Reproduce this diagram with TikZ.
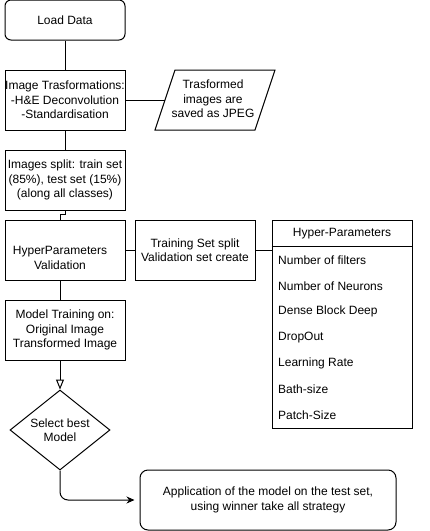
\documentclass[tikz,border=0pt]{standalone}
\usepackage{fontspec}
\setmainfont{Liberation Sans}
\usetikzlibrary{shapes.geometric,arrows.meta}
\begin{document}
\begin{tikzpicture}[x=1pt,y=-1pt,
  every node/.style={font=\fontsize{12pt}{14.3pt}\selectfont, inner sep=0pt, align=center},
  line/.style={line width=1pt},
  box/.style={draw, line, minimum width=120pt, minimum height=60pt}]
\useasboundingbox[fill=white] (0,0) rectangle (430,531);
% nodes
\node[box, rounded corners=6pt, minimum height=40pt] (load) at (65,20) {Load Data};
\node[box] (imgT) at (65,100) {Image Trasformations:\\-H\&E Deconvolution\\-Standardisation};
\draw[line] (155,130) -- (175,70) -- (275,70) -- (255,130) -- cycle;
\node (jpeg) at (213,99) {Trasformed\\images are\\saved as JPEG};
\coordinate (jpegL) at (165,100);
\node[box] (split) at (65,180) {Images split: train set\\(85\%), test set (15\%)\\(along all classes)};
\node[box] (hpv) at (65,250) {};
\node (hpvt) at (60,258) {HyperParameters\\Validation};
\node[box] (train) at (195,250) {Training Set split\\Validation set create};
\node[draw, line, minimum width=140pt, minimum height=208pt] (hp) at (342,324) {};
\draw[line] (hp.west |- 0,246) -- (hp.east |- 0,246);
\node (hpt) at (342,234) {Hyper-Parameters};
\foreach \t [count=\i] in {Number of filters, Number of Neurons, Dense Block Deep, DropOut, Learning Rate, Bath-size, Patch-Size}
  \node[anchor=west] (hp\i) at (278,{260+(\i-1)*25.8}) {\t};
\node[box] (model) at (65,330) {Model Training on:\\Original Image\\Transformed Image};
\node[draw, line, diamond, minimum width=100pt, minimum height=80pt, shape aspect=1.25] (sel) at (60,430) {Select best\\Model};
\node[box, rounded corners=8pt, minimum width=256pt] (app) at (268,500) {Application of the model on the test set,\\using winner take all strategy};
% connectors
\draw[line] (load.south) -- (imgT.north);
\draw[line] (imgT.east) -- (jpegL);
\draw[line] (imgT.south) -- (split.north);
\draw[line] (split.south) -- ++(0,4) -| ([xshift=-5pt]hpv.north);
\draw[line] (hpv.east) -- (train.west);
\draw[line] (train.east) -- (hp.west |- train.east);
\draw[line] ([xshift=-5pt]hpv.south) -- ([xshift=-5pt]model.north);
\draw[line, -{Triangle[open, length=10pt, width=8pt]}] ([xshift=-5pt]model.south) -- (sel.north);
\draw[line, rounded corners=8pt, -{Stealth[length=8pt, width=7pt]}, shorten >=5pt] (sel.south) |- (app.west);
\end{tikzpicture}
\end{document}
